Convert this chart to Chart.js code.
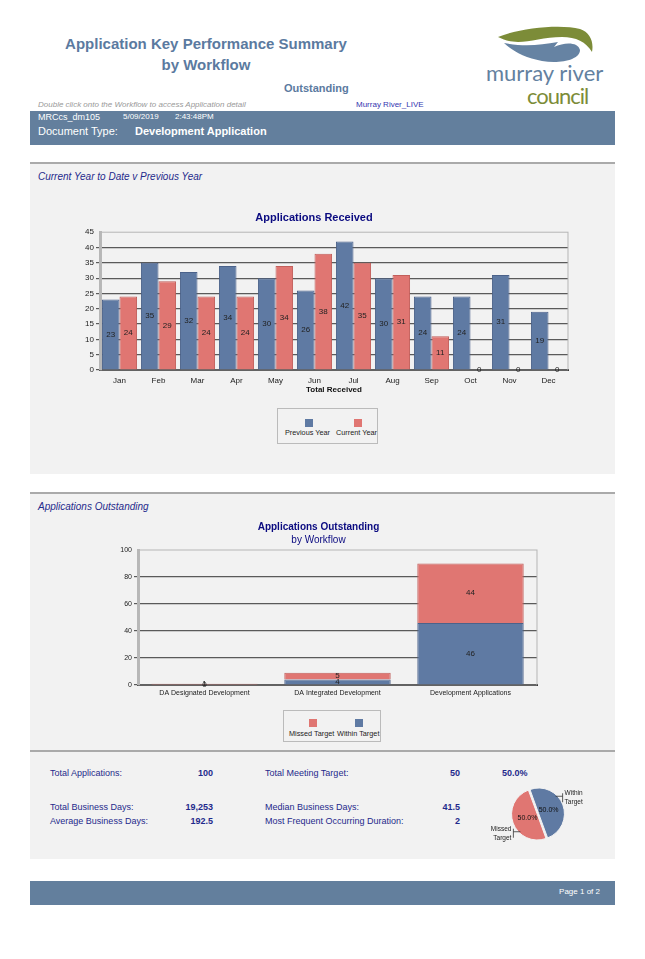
<!DOCTYPE html>
<html lang="en">
<head>
<meta charset="UTF-8">
<title>Application Key Performance Summary</title>
<style>
    body { margin: 0; background: #fff; font-family: "Liberation Sans", Arial, sans-serif; }
    .page { position: relative; width: 645px; height: 959px; }
    .abs { position: absolute; white-space: nowrap; }
    .title { color: #5b7aa0; font-weight: bold; font-size: 15px; text-align: center; width: 330px; left: 41px; }
    .bar { position: absolute; left: 30px; width: 585px; background: #637f9d; }
    .section { position: absolute; left: 30px; width: 585px; background: #f2f2f2; border-top: 2px solid #aaa; }
    .sechead { color: #1f2a8c; font-style: italic; font-size: 10px; }
    .stat { color: #1f2a8c; font-size: 9px; }
    .num { color: #1f2a8c; font-size: 9px; font-weight: bold; text-align: right; width: 60px; }
    .legend { position: absolute; border: 1px solid #bbb; background: #f2f2f2; font-size: 7.3px; color: #222; }
    .legend span.sq { position: absolute; width: 8px; height: 8px; }
    canvas { position: absolute; }
</style>
</head>
<body>
<div class="page">
    <div class="abs title" style="top:35px;">Application Key Performance Summary</div>
    <div class="abs title" style="top:56px;">by Workflow</div>
    <div class="abs" style="left:284px;top:82px;color:#5b7aa0;font-weight:bold;font-size:11px;">Outstanding</div>

    <svg class="abs" style="left:480px;top:20px;" width="140" height="90">
        <path d="M18,17 C40,8 80,4 100,9 C110,12 114,22 112,32 C106,22 96,17 82,17 C65,17 50,22 38,22 C30,22 24,20 18,17 Z" fill="#7c8c38"/>
        <path d="M24,23 C45,27 60,25 78,22 L74,27 C85,22 98,22 100,30 C100,40 80,44 62,41 C45,38 32,31 24,23 Z" fill="#6683a3"/>
        <text x="6" y="61" font-family="Lato, 'Open Sans', sans-serif" font-size="22" fill="#63819f">murray river</text>
        <text x="47" y="84" font-family="Lato, 'Open Sans', sans-serif" font-size="22" letter-spacing="-1" fill="#7c8c38">council</text>
    </svg>

    <div class="abs" style="left:38px;top:100px;color:#999;font-style:italic;font-size:8px;">Double click onto the Workflow to access Application detail</div>
    <div class="abs" style="left:356px;top:100px;color:#3535b0;font-size:8px;">Murray River_LIVE</div>

    <div class="bar" style="top:111px;height:34px;">
        <div class="abs" style="left:8px;top:1px;color:#fff;font-size:9px;">MRCcs_dm105</div>
        <div class="abs" style="left:93px;top:1px;color:#fff;font-size:8px;">5/09/2019</div>
        <div class="abs" style="left:145px;top:1px;color:#fff;font-size:8px;">2:43:48PM</div>
        <div class="abs" style="left:8px;top:14px;color:#fff;font-size:11px;">Document Type:</div>
        <div class="abs" style="left:105px;top:14px;color:#fff;font-size:11px;font-weight:bold;">Development Application</div>
    </div>

    <div class="section" style="top:162px;height:310px;">
        <div class="abs sechead" style="left:8px;top:7px;">Current Year to Date v Previous Year</div>
    </div>
    <div class="section" style="top:492px;height:256px;">
        <div class="abs sechead" style="left:8px;top:7px;">Applications Outstanding</div>
    </div>
    <div class="section" style="top:750px;height:107px;"></div>

    <canvas id="received" style="left:60px;top:205px;" width="520" height="190"></canvas>
    <div class="legend" style="left:277px;top:408px;width:99px;height:34px;">
        <span class="sq" style="left:27px;top:10px;background:#5f7aa3;"></span>
        <span class="sq" style="left:76px;top:10px;background:#e07672;"></span>
        <span class="abs" style="left:7px;top:19px;">Previous Year</span>
        <span class="abs" style="left:58px;top:19px;">Current Year</span>
    </div>

    <canvas id="outstanding" style="left:100px;top:519px;" width="450" height="182"></canvas>
    <div class="legend" style="left:283px;top:710px;width:96px;height:30px;">
        <span class="sq" style="left:25px;top:8px;background:#e07672;"></span>
        <span class="sq" style="left:71px;top:8px;background:#5f7aa3;"></span>
        <span class="abs" style="left:5px;top:18px;">Missed Target</span>
        <span class="abs" style="left:53px;top:18px;">Within Target</span>
    </div>

    <div id="stats"></div>
    <canvas id="pie" style="left:490px;top:780px;" width="110" height="70"></canvas>

    <div class="bar" style="top:881px;height:24px;">
        <div class="abs" style="right:15px;top:6px;color:#fff;font-size:8px;">Page 1 of 2</div>
    </div>
</div>

<script src="https://cdn.jsdelivr.net/npm/chart.js"></script>
<script>
    // chart data
    const months = ["Jan", "Feb", "Mar", "Apr", "May", "Jun", "Jul", "Aug", "Sep", "Oct", "Nov", "Dec"];
    const previousYear = [23, 35, 32, 34, 30, 26, 42, 30, 24, 24, 31, 19];
    const currentYear = [24, 29, 24, 24, 34, 38, 35, 31, 11, 0, 0, 0];
    const receivedTicks = [0, 5, 10, 15, 20, 25, 30, 35, 40, 45];

    const workflows = ["DA Designated Development", "DA Integrated Development", "Development Applications"];
    const withinTarget = [0, 4, 46];
    const missedTarget = [1, 5, 44];
    const outstandingTicks = [0, 20, 40, 60, 80, 100];

    const statLabels = ["Total Applications:", "Total Meeting Target:", "Total Business Days:", "Median Business Days:", "Average Business Days:", "Most Frequent Occurring Duration:"];
    const statValues = ["100", "50", "19,253", "41.5", "192.5", "2"];

    const BLUE = '#5f7aa3';
    const RED = '#e07672';

    Chart.defaults.font.family = "'Liberation Sans', Arial, sans-serif";
    Chart.defaults.color = '#222';
    Chart.defaults.animation = false;

    // stats text block
    var stats = document.getElementById("stats");
    var rows = [774, 774, 808, 808, 822, 822];
    var html = '';
    for (var i = 0; i < statLabels.length; i++) {
        var left = i % 2 === 0 ? 50 : 265;
        var numLeft = i % 2 === 0 ? 153 : 400;
        html += '<div class="abs stat" style="left:' + left + 'px;top:' + (rows[i] - 6) + 'px;">' + statLabels[i] + '</div>';
        html += '<div class="abs num" style="left:' + numLeft + 'px;top:' + (rows[i] - 6) + 'px;">' + statValues[i] + '</div>';
    }
    var within = withinTarget.reduce((a, b) => a + b, 0);
    var missed = missedTarget.reduce((a, b) => a + b, 0);
    var pct = (within / (within + missed) * 100).toFixed(1) + '%';
    html += '<div class="abs num" style="left:502px;top:768px;text-align:left;">' + pct + '</div>';
    stats.innerHTML = html;

    // value labels in the middle of the bars
    const barLabels = {
        id: 'barLabels',
        afterDatasetsDraw(chart) {
            const ctx = chart.ctx;
            ctx.save();
            ctx.font = "8px 'Liberation Sans', Arial";
            ctx.fillStyle = '#222';
            ctx.textAlign = 'center';
            ctx.textBaseline = 'middle';
            chart.data.datasets.forEach((ds, di) => {
                chart.getDatasetMeta(di).data.forEach((el, i) => {
                    ctx.fillText(ds.data[i], el.x, (el.y + el.base) / 2);
                });
            });
            ctx.restore();
        }
    };

    // plot frame
    const frame = {
        id: 'frame',
        beforeDatasetsDraw(chart) {
            const a = chart.chartArea;
            const ctx = chart.ctx;
            ctx.save();
            ctx.strokeStyle = '#b5b5b5';
            ctx.lineWidth = 1;
            ctx.strokeRect(a.left, a.top, a.right - a.left, a.bottom - a.top);
            ctx.restore();
        }
    };

    function gridColor(max) {
        return c => (c.tick && c.tick.value === max) ? 'rgba(0,0,0,0)' : '#5a5a5a';
    }

    // Received chart
    new Chart(document.getElementById("received"), {
        type: 'bar',
        data: {
            labels: months,
            datasets: [
                { label: 'Previous Year', data: previousYear, backgroundColor: BLUE, borderColor: '#4b628a', borderWidth: 1 },
                { label: 'Current Year', data: currentYear, backgroundColor: RED, borderColor: '#c25f5b', borderWidth: 1 }
            ]
        },
        options: {
            responsive: false,
            categoryPercentage: 0.9,
            barPercentage: 1,
            layout: { padding: { top: 2, right: 12, bottom: 0, left: 0 } },
            plugins: {
                legend: { display: false },
                tooltip: { enabled: false },
                title: {
                    display: true, text: 'Applications Received', color: '#0a0a80',
                    font: { size: 11, weight: 'bold' }, padding: { top: 4, bottom: 8 }
                }
            },
            scales: {
                x: {
                    grid: { display: false, drawTicks: false },
                    border: { color: '#111', width: 2 },
                    ticks: { font: { size: 8 }, padding: 6, color: '#222' },
                    title: { display: true, text: 'Total Received', font: { size: 8, weight: 'bold' }, color: '#111', padding: 0 },
                    afterFit(s) { s.height = 25; }
                },
                y: {
                    min: 0, max: 45,
                    afterBuildTicks(s) { s.ticks = receivedTicks.map(v => ({ value: v })); },
                    grid: { color: gridColor(45), lineWidth: 1.2, tickLength: 4 },
                    border: { color: '#b8b8b8', width: 3 },
                    ticks: { font: { size: 8 }, padding: 2, color: '#222' },
                    afterFit(s) { s.width = 40; }
                }
            }
        },
        plugins: [frame, barLabels]
    });

    // Outstanding chart
    new Chart(document.getElementById("outstanding"), {
        type: 'bar',
        data: {
            labels: workflows,
            datasets: [
                { label: 'Within Target', data: withinTarget, backgroundColor: BLUE, borderColor: '#4b628a', borderWidth: 1 },
                { label: 'Missed Target', data: missedTarget, backgroundColor: RED, borderColor: '#c25f5b', borderWidth: 1 }
            ]
        },
        options: {
            responsive: false,
            categoryPercentage: 1,
            barPercentage: 0.8,
            layout: { padding: { top: 0, right: 13, bottom: 0, left: 0 } },
            plugins: {
                legend: { display: false },
                tooltip: { enabled: false },
                title: {
                    display: true, text: 'Applications Outstanding', color: '#0a0a80',
                    font: { size: 10, weight: 'bold' }, padding: { top: 2, bottom: 0 }
                },
                subtitle: {
                    display: true, text: 'by Workflow', color: '#0a0a80',
                    font: { size: 10 }, padding: { top: 1, bottom: 4 }
                }
            },
            scales: {
                x: {
                    stacked: true,
                    grid: { display: false, drawTicks: false },
                    border: { color: '#111', width: 2 },
                    ticks: { font: { size: 7 }, padding: 4, color: '#222' },
                    afterFit(s) { s.height = 16; }
                },
                y: {
                    stacked: true,
                    min: 0, max: 100,
                    afterBuildTicks(s) { s.ticks = outstandingTicks.map(v => ({ value: v })); },
                    grid: { color: gridColor(100), lineWidth: 1.2, tickLength: 4 },
                    border: { color: '#b8b8b8', width: 3 },
                    ticks: { font: { size: 7 }, padding: 2, color: '#222' },
                    afterFit(s) { s.width = 38; }
                }
            }
        },
        plugins: [frame, barLabels]
    });

    // pie labels
    const pieLabels = {
        id: 'pieLabels',
        afterDatasetsDraw(chart) {
            const ctx = chart.ctx;
            const meta = chart.getDatasetMeta(0);
            const names = [['Within', 'Target'], ['Missed', 'Target']];
            const data = chart.data.datasets[0].data;
            const total = data.reduce((a, b) => a + b, 0);
            ctx.save();
            ctx.textBaseline = 'middle';
            meta.data.forEach((arc, i) => {
                const p = arc.getProps(['x', 'y', 'startAngle', 'endAngle', 'outerRadius']);
                const mid = (p.startAngle + p.endAngle) / 2;
                // percentage inside the slice
                ctx.font = "7px 'Liberation Sans', Arial";
                ctx.fillStyle = '#111';
                ctx.textAlign = 'center';
                const ir = p.outerRadius * 0.45;
                ctx.fillText((data[i] / total * 100).toFixed(1) + '%', p.x + Math.cos(mid) * ir, p.y + Math.sin(mid) * ir);
                // outer name with a bracket leader
                const a = p.startAngle + (p.endAngle - p.startAngle) * 0.36;
                const ex = p.x + Math.cos(a) * p.outerRadius, ey = p.y + Math.sin(a) * p.outerRadius;
                const dir = Math.cos(a) >= 0 ? 1 : -1;
                const bx = ex + dir * 7;
                ctx.strokeStyle = '#333';
                ctx.lineWidth = 0.8;
                ctx.beginPath();
                ctx.moveTo(ex, ey);
                ctx.lineTo(bx, ey);
                ctx.moveTo(bx, ey - 3);
                ctx.lineTo(bx, ey + 6);
                ctx.stroke();
                ctx.font = "6.5px 'Liberation Sans', Arial";
                ctx.fillStyle = '#222';
                ctx.textAlign = dir > 0 ? 'left' : 'right';
                ctx.fillText(names[i][0], bx + dir * 2, ey - 3);
                ctx.fillText(names[i][1], bx + dir * 2, ey + 6);
            });
            ctx.restore();
        }
    };

    new Chart(document.getElementById("pie"), {
        type: 'pie',
        data: {
            labels: ['Within Target', 'Missed Target'],
            datasets: [{ data: [within, missed], backgroundColor: [BLUE, RED], borderColor: '#f2f2f2', borderWidth: 1, offset: 3 }]
        },
        options: {
            responsive: false,
            rotation: -20,
            layout: { padding: { top: 7, right: 35, bottom: 9, left: 21 } },
            plugins: { legend: { display: false }, tooltip: { enabled: false } }
        },
        plugins: [pieLabels]
    });
</script>
</body>
</html>
